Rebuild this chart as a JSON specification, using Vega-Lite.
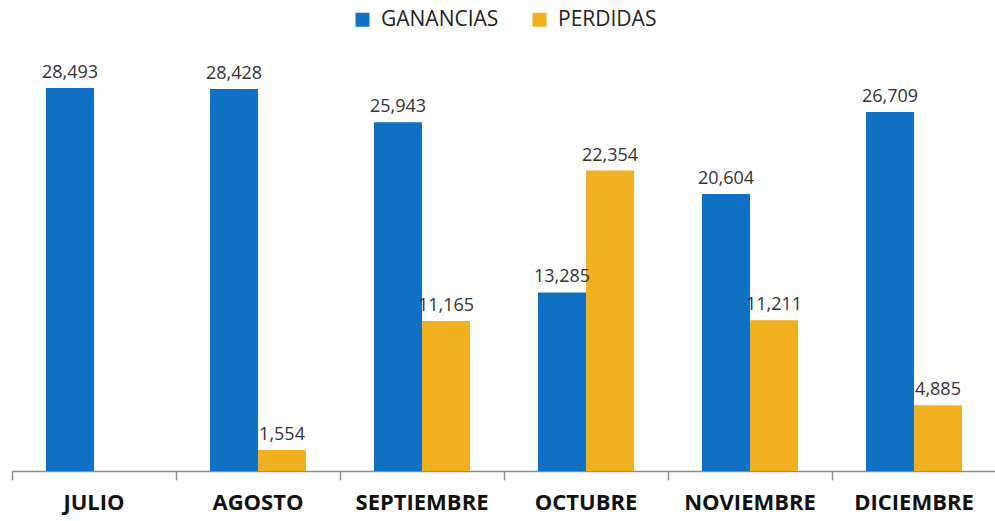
{
  "$schema": "https://vega.github.io/schema/vega-lite/v6.json",
  "autosize": "none",
  "width": 984,
  "height": 421,
  "padding": {"left": 12, "top": 50, "right": 0, "bottom": 50},
  "background": "white",
  "config": {"view": {"stroke": null}, "font": "Open Sans"},
  "data": {"values": [
    {"mes": "JULIO", "serie": "GANANCIAS", "valor": 28493},
    {"mes": "AGOSTO", "serie": "GANANCIAS", "valor": 28428},
    {"mes": "AGOSTO", "serie": "PERDIDAS", "valor": 1554},
    {"mes": "SEPTIEMBRE", "serie": "GANANCIAS", "valor": 25943},
    {"mes": "SEPTIEMBRE", "serie": "PERDIDAS", "valor": 11165},
    {"mes": "OCTUBRE", "serie": "GANANCIAS", "valor": 13285},
    {"mes": "OCTUBRE", "serie": "PERDIDAS", "valor": 22354},
    {"mes": "NOVIEMBRE", "serie": "GANANCIAS", "valor": 20604},
    {"mes": "NOVIEMBRE", "serie": "PERDIDAS", "valor": 11211},
    {"mes": "DICIEMBRE", "serie": "GANANCIAS", "valor": 26709},
    {"mes": "DICIEMBRE", "serie": "PERDIDAS", "valor": 4885}
  ]},
  "encoding": {
    "x": {"field": "mes", "type": "nominal", "sort": ["JULIO", "AGOSTO", "SEPTIEMBRE", "OCTUBRE", "NOVIEMBRE", "DICIEMBRE"],
      "scale": {"paddingInner": 0, "paddingOuter": 0}},
    "xOffset": {"field": "serie", "type": "nominal", "scale": {"paddingInner": 0, "paddingOuter": 0.7083}},
    "y": {"field": "valor", "type": "quantitative", "scale": {"domain": [0, 31321], "nice": false}, "axis": null}
  },
  "resolve": {"axis": {"x": "independent"}},
  "layer": [
    {
      "mark": {"type": "bar"},
      "encoding": {
        "x": {"field": "mes", "type": "nominal", "sort": ["JULIO", "AGOSTO", "SEPTIEMBRE", "OCTUBRE", "NOVIEMBRE", "DICIEMBRE"],
          "axis": {"title": null, "orient": "bottom", "labelAngle": 0, "ticks": false, "domain": true, "domainColor": "#8c8c8c", "domainWidth": 1.5,
            "labelFontSize": 22, "labelFontWeight": "bold", "labelColor": "#111111", "labelPadding": 21, "labelFont": "Open Sans"}},
        "color": {"field": "serie", "type": "nominal",
          "scale": {"domain": ["GANANCIAS", "PERDIDAS"], "range": ["#1070C4", "#F0B020"]},
          "legend": {"title": null, "orient": "none", "legendX": 340, "legendY": -41, "direction": "horizontal",
            "symbolType": "square", "symbolSize": 196, "symbolStrokeWidth": 0, "labelFontSize": 21, "labelColor": "#222222",
            "labelFont": "Open Sans", "columnPadding": 30, "labelOffset": 8}}
      }
    },
    {
      "mark": {"type": "text", "baseline": "bottom", "dy": -6, "fontSize": 18, "color": "#333333", "font": "Open Sans"},
      "encoding": {
        "x": {"field": "mes", "type": "nominal", "sort": ["JULIO", "AGOSTO", "SEPTIEMBRE", "OCTUBRE", "NOVIEMBRE", "DICIEMBRE"],
          "axis": {"title": null, "orient": "bottom", "labels": false, "domain": false, "ticks": true, "bandPosition": 0, "tickSize": 9, "tickColor": "#8c8c8c", "tickWidth": 1.5}},
        "text": {"field": "valor", "type": "quantitative", "format": ",d"}
      }
    }
  ]
}
